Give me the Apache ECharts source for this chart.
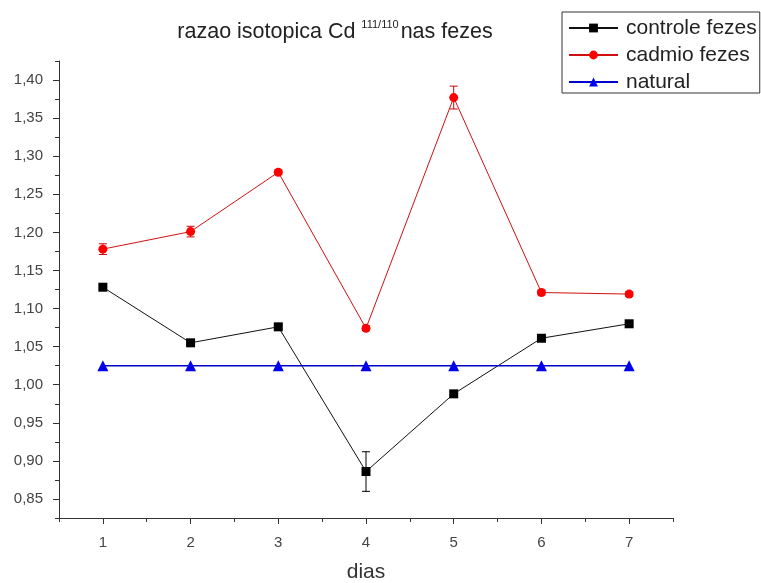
<!DOCTYPE html>
<html>
<head>
<meta charset="utf-8">
<script src="https://cdn.jsdelivr.net/npm/echarts@6/dist/echarts.min.js"></script>
<style>
  html, body { margin: 0; padding: 0; background: #fff; }
  #chart { width: 761px; height: 583px; }
</style>
</head>
<body>
<div id="chart"></div>
<script>
// Days of sampling
const dias = [1, 2, 3, 4, 5, 6, 7];

// Cd 111/110 isotope ratio in faeces
const controleFezes = [1.128, 1.055, 1.076, 0.886, 0.988, 1.061, 1.080];
const controleErro  = [0.003, 0.003, 0.003, 0.026, 0.004, 0.003, 0.003];
const cadmioFezes   = [1.178, 1.201, 1.279, 1.074, 1.377, 1.121, 1.119];
const cadmioErro    = [0.007, 0.007, 0.003, 0.003, 0.015, 0.003, 0.003];
const natural       = [1.025, 1.025, 1.025, 1.025, 1.025, 1.025, 1.025];

// Axis ticks
const xMajorTicks = [1, 2, 3, 4, 5, 6, 7];
const xMinorTicks = [0.5, 1.5, 2.5, 3.5, 4.5, 5.5, 6.5, 7.5];
const yMajorTicks = [0.85, 0.90, 0.95, 1.00, 1.05, 1.10, 1.15, 1.20, 1.25, 1.30, 1.35, 1.40];
const yMinorTicks = [0.825, 0.875, 0.925, 0.975, 1.025, 1.075, 1.125, 1.175, 1.225, 1.275, 1.325, 1.375, 1.425];

const X_MIN = 0.5, X_MAX = 7.5, Y_MIN = 0.825, Y_MAX = 1.425;

const pairs = (ys) => dias.map((d, i) => [d, ys[i]]);
const errRows = (ys, es) => dias.map((d, i) => [d, ys[i] - es[i], ys[i] + es[i]]);

function errorBars(color) {
  return function (params, api) {
    const x = api.value(0);
    const lo = api.coord([x, api.value(1)]);
    const hi = api.coord([x, api.value(2)]);
    const cap = 4;
    const style = { stroke: color, lineWidth: 1 };
    return {
      type: 'group',
      children: [
        { type: 'line', shape: { x1: lo[0], y1: lo[1], x2: hi[0], y2: hi[1] }, style },
        { type: 'line', shape: { x1: lo[0] - cap, y1: lo[1], x2: lo[0] + cap, y2: lo[1] }, style },
        { type: 'line', shape: { x1: hi[0] - cap, y1: hi[1], x2: hi[0] + cap, y2: hi[1] }, style }
      ]
    };
  };
}

const fontFam = '"Liberation Sans", Arial, sans-serif';
const chart = echarts.init(document.getElementById('chart'), null, { renderer: 'canvas' });

chart.setOption({
  animation: false,
  backgroundColor: '#ffffff',
  title: {
    text: 'razao isotopica Cd {sup|111/110}nas fezes',
    left: 335,
    textAlign: 'center',
    top: 19,
    padding: 0,
    textStyle: {
      fontFamily: fontFam,
      fontSize: 21.5,
      fontWeight: 'normal',
      color: '#222',
      lineHeight: 26,
      rich: {
        sup: { fontFamily: fontFam, fontSize: 11, verticalAlign: 'top', lineHeight: 26, color: '#222', padding: [0, 2, 10, 0] }
      }
    }
  },
  legend: {
    orient: 'vertical',
    left: 562,
    top: 12,
    padding: [5, 3, 0, 6],
    itemGap: 5,
    itemWidth: 49,
    itemHeight: 11,
    borderColor: '#333',
    borderWidth: 1,
    borderRadius: 0,
    textStyle: { fontFamily: fontFam, fontSize: 21, lineHeight: 22, color: '#222', padding: [0, 0, 0, 3] },
    data: ['controle fezes', 'cadmio fezes', 'natural']
  },
  grid: { left: 59, right: 88, top: 61, bottom: 65, containLabel: false, outerBoundsMode: 'none' },
  xAxis: [
    {
      type: 'value',
      min: X_MIN,
      max: X_MAX,
      name: 'dias',
      nameLocation: 'middle',
      nameGap: 44,
      nameTextStyle: { fontFamily: fontFam, fontSize: 21, color: '#333' },
      axisLine: { lineStyle: { color: '#333', width: 1 } },
      axisTick: { customValues: xMajorTicks, length: 6, lineStyle: { color: '#333' } },
      axisLabel: {
        customValues: xMajorTicks,
        margin: 17,
        fontFamily: fontFam,
        fontSize: 15,
        color: '#444',
        formatter: (v) => String(v)
      },
      splitLine: { show: false }
    },
    {
      type: 'value',
      min: X_MIN,
      max: X_MAX,
      position: 'bottom',
      axisLine: { show: false },
      axisTick: { customValues: xMinorTicks, length: 4, lineStyle: { color: '#333' } },
      axisLabel: { show: false },
      splitLine: { show: false }
    }
  ],
  yAxis: [
    {
      type: 'value',
      min: Y_MIN,
      max: Y_MAX,
      axisLine: { show: true, lineStyle: { color: '#333', width: 1 } },
      axisTick: { show: true, customValues: yMajorTicks, length: 6, lineStyle: { color: '#333' } },
      axisLabel: {
        customValues: yMajorTicks,
        margin: 16,
        fontFamily: fontFam,
        fontSize: 15,
        color: '#444',
        formatter: (v) => v.toFixed(2).replace('.', ',')
      },
      splitLine: { show: false }
    },
    {
      type: 'value',
      min: Y_MIN,
      max: Y_MAX,
      position: 'left',
      axisLine: { show: false },
      axisTick: { show: true, customValues: yMinorTicks, length: 4, lineStyle: { color: '#333' } },
      axisLabel: { show: false },
      splitLine: { show: false }
    }
  ],
  series: [
    {
      name: 'controle fezes',
      type: 'line',
      data: pairs(controleFezes),
      symbol: 'rect',
      symbolSize: 9,
      itemStyle: { color: '#000000' },
      lineStyle: { color: '#111111', width: 1 },
      z: 3
    },
    {
      name: 'cadmio fezes',
      type: 'line',
      data: pairs(cadmioFezes),
      symbol: 'circle',
      symbolSize: 9,
      itemStyle: { color: '#ff0000' },
      lineStyle: { color: '#d01010', width: 1 },
      z: 3
    },
    {
      name: 'natural',
      type: 'line',
      data: pairs(natural),
      symbol: 'triangle',
      symbolSize: 11,
      itemStyle: { color: '#0000ee' },
      lineStyle: { color: '#0000cc', width: 1.5 },
      z: 3
    },
    {
      type: 'custom',
      renderItem: errorBars('#000000'),
      data: errRows(controleFezes, controleErro),
      encode: { x: 0, y: [1, 2] },
      z: 2,
      silent: true
    },
    {
      type: 'custom',
      renderItem: errorBars('#cc0000'),
      data: errRows(cadmioFezes, cadmioErro),
      encode: { x: 0, y: [1, 2] },
      z: 2,
      silent: true
    }
  ]
});
</script>
</body>
</html>
